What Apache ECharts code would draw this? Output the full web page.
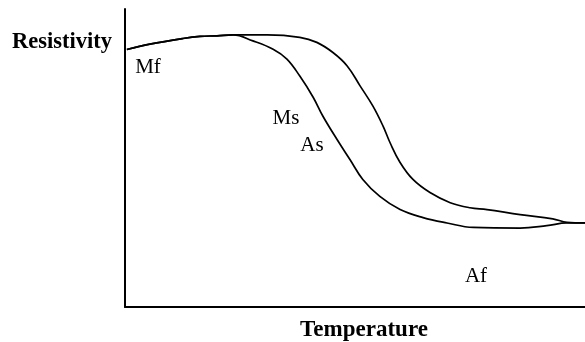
<!DOCTYPE html>
<html>
<head>
<meta charset="utf-8">
<script src="https://cdn.jsdelivr.net/npm/echarts@6/dist/echarts.min.js"></script>
<style>
	html, body { margin: 0; padding: 0; background: #fff; }
	#chart { width: 585px; height: 342px; }
</style>
</head>
<body>
<div id="chart"></div>
<script>
// temperature / resistivity, arbitrary units (0..100)
const coolingX = [ 0.4, 5.4, 12.6, 16.3, 20.0, 23.5, 27.8, 32.2, 35.2, 38.0, 40.9, 43.0, 46.1, 48.9, 51.7, 55.4, 59.8, 64.8, 70.0, 75.7, 85.9, 91.7, 96.1, 100 ];
const coolingY = [ 86.4, 88.2, 90.1, 90.8, 91.0, 91.3, 89.3, 86.5, 83.2, 77.5, 70.4, 64.1, 56.2, 49.5, 42.8, 37.1, 32.7, 30.0, 28.2, 26.7, 26.5, 27.3, 28.2, 28.2 ];

const heatingX = [ 0.4, 5.4, 12.6, 16.3, 20.0, 23.5, 30.9, 38.0, 41.7, 45.2, 48.3, 51.1, 53.9, 56.1, 57.6, 59.8, 62.6, 66.3, 70.7, 75.0, 78.7, 85.9, 93.0, 96.1, 100 ];
const heatingY = [ 86.4, 88.2, 90.1, 90.8, 91.0, 91.3, 91.3, 90.5, 88.8, 85.4, 80.9, 74.2, 67.4, 60.7, 55.2, 48.5, 42.8, 38.4, 35.0, 33.3, 32.7, 31.0, 29.6, 28.4, 28.2 ];

const axisNames = { x: 'Temperature', y: 'Resistivity' };
const pointLabels = [ 'Mf', 'Ms', 'As', 'Af' ];

const chart = echarts.init( document.getElementById( 'chart' ) );

const toPairs = ( xs, ys ) => xs.map( ( x, i ) => [ x, ys[ i ] ] );

const lineStyle = { color: '#000', width: 1.7 };

const labelSpots = [ [ 148, 67 ], [ 286, 118 ], [ 312, 145 ], [ 476, 276 ] ];

const serif = '"Liberation Serif", "DejaVu Serif", serif';

chart.setOption( {
	animation: false,
	backgroundColor: '#fff',
	grid: { left: 125, right: 0, top: 9, bottom: 35 },
	xAxis: {
		type: 'value',
		min: 0,
		max: 100,
		axisLine: { lineStyle: { color: '#000', width: 2 } },
		axisTick: { show: false },
		axisLabel: { show: false },
		splitLine: { show: false }
	},
	yAxis: {
		type: 'value',
		min: 0,
		max: 100,
		axisLine: { show: true, lineStyle: { color: '#000', width: 2 } },
		axisTick: { show: false },
		axisLabel: { show: false },
		splitLine: { show: false }
	},
	series: [
		{
			type: 'line',
			data: toPairs( coolingX, coolingY ),
			smooth: 0.4,
			symbol: 'none',
			lineStyle: lineStyle
		},
		{
			type: 'line',
			data: toPairs( heatingX, heatingY ),
			smooth: 0.4,
			symbol: 'none',
			lineStyle: lineStyle
		}
	],
	graphic: [
		{
			type: 'text',
			style: {
				text: axisNames.y, x: 62, y: 42,
				font: 'bold 22.5px ' + serif, fill: '#000',
				textAlign: 'center', textVerticalAlign: 'middle'
			}
		},
		{
			type: 'text',
			style: {
				text: axisNames.x, x: 364, y: 330,
				font: 'bold 23px ' + serif, fill: '#000',
				textAlign: 'center', textVerticalAlign: 'middle'
			}
		}
	].concat( pointLabels.map( ( name, i ) => ( {
		type: 'text',
		style: {
			text: name, x: labelSpots[ i ][ 0 ], y: labelSpots[ i ][ 1 ],
			font: '21px ' + serif, fill: '#000',
			textAlign: 'center', textVerticalAlign: 'middle'
		}
	} ) ) )
} );
</script>
</body>
</html>
